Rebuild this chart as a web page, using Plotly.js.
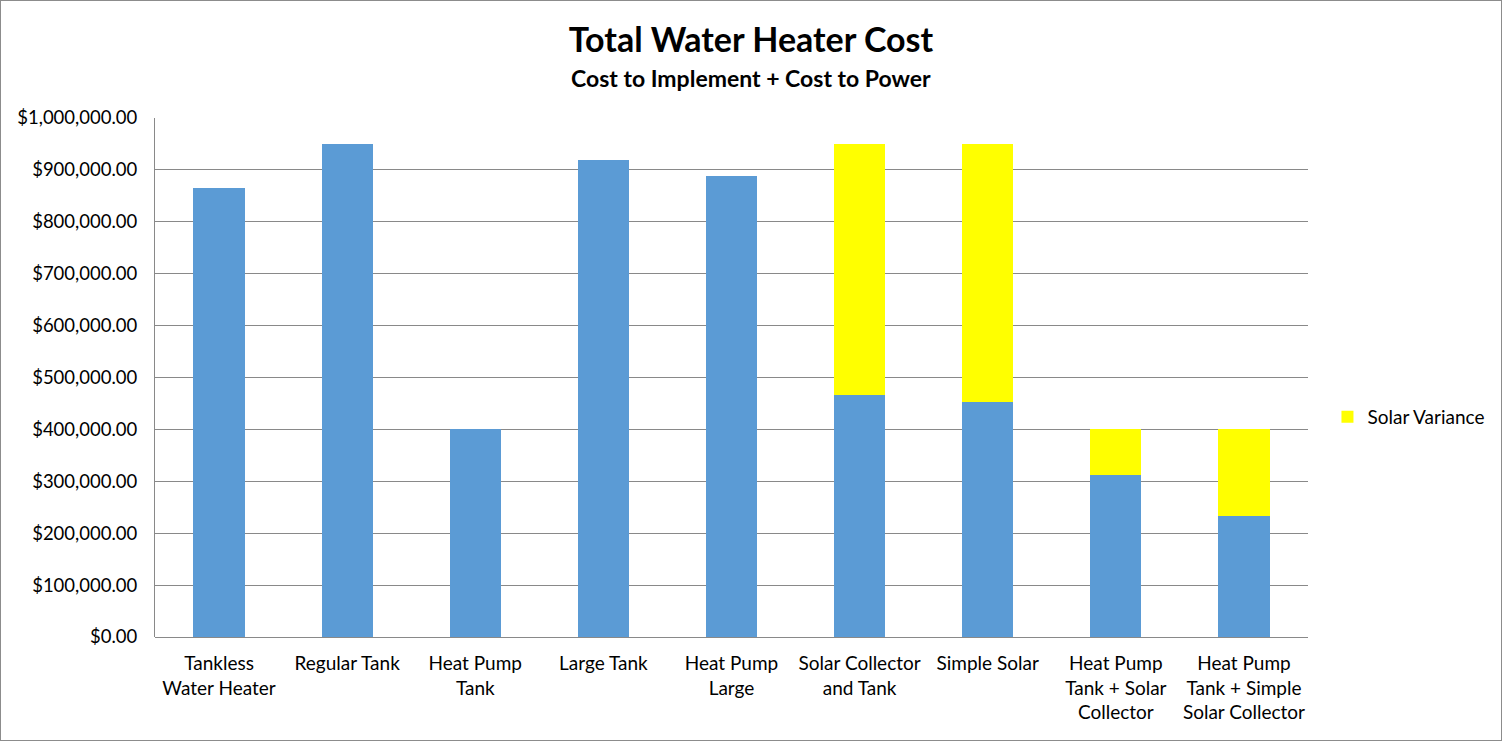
<!DOCTYPE html>
<html>
<head>
<meta charset="utf-8">
<script src="https://cdn.plot.ly/plotly-3.0.1.min.js"></script>
<style>
  body { margin: 0; background: #fff; }
  #chart { width: 1500px; height: 739px; border: 1px solid #8c8c8c; }
</style>
</head>
<body>
<div id="chart"></div>
<script>
// Heater types (x axis categories)
var heaterTypes = [
    "Tankless<br>Water Heater",
    "Regular Tank",
    "Heat Pump<br>Tank",
    "Large Tank",
    "Heat Pump<br>Large",
    "Solar Collector<br>and Tank",
    "Simple Solar",
    "Heat Pump<br>Tank + Solar<br>Collector",
    "Heat Pump<br>Tank + Simple<br>Solar Collector"
];

// Base cost (blue) and solar variance on top (yellow)
var baseCost = [866000, 949000, 400000, 920000, 889000, 466000, 453000, 312000, 233000];
var solarVariance = [null, null, null, null, null, 483000, 496000, 88000, 167000];

var font = "Lato, 'Open Sans', sans-serif";

var baseTrace = {
    x: heaterTypes,
    y: baseCost,
    type: "bar",
    name: "Cost",
    showlegend: false,
    marker: {color: "#5B9BD5"}
};

var solarTrace = {
    x: heaterTypes,
    y: solarVariance,
    type: "bar",
    name: "Solar Variance",
    marker: {color: "#FFFF00"}
};

var data = [baseTrace, solarTrace];

var layout = {
    width: 1500,
    height: 739,
    barmode: "stack",
    bargap: 0.6,
    paper_bgcolor: "#ffffff",
    plot_bgcolor: "#ffffff",
    font: {family: font, color: "#000000", size: 18},
    margin: {l: 154, r: 192, t: 117, b: 103},
    title: {
        text: "<b>Total Water Heater Cost</b>",
        font: {family: font, size: 34, color: "#000000"},
        x: 0.5, xanchor: "center",
        y: 0.947, yanchor: "middle"
    },
    annotations: [{
        // subtitle, centred on the whole figure rather than the plot area
        text: "<b>Cost to Implement + Cost to Power</b>",
        xref: "paper", yref: "paper",
        x: 0.517, y: 1.078,
        xanchor: "center", yanchor: "middle",
        showarrow: false,
        font: {family: font, size: 23, color: "#000000"}
    }],
    xaxis: {
        type: "category",
        showgrid: false,
        showline: false,
        ticks: "",
        ticklabelstandoff: 13,
        tickfont: {family: font, size: 19, color: "#000000"},
        fixedrange: true
    },
    yaxis: {
        range: [0, 1000000],
        dtick: 100000,
        tickformat: "$,.2f",
        showgrid: true,
        gridcolor: "#898989",
        gridwidth: 1,
        zeroline: true,
        zerolinecolor: "#898989",
        zerolinewidth: 1,
        showline: true,
        linecolor: "#898989",
        linewidth: 1,
        ticks: "",
        ticklabelstandoff: 13,
        tickfont: {family: font, size: 18.5, color: "#000000"},
        fixedrange: true
    },
    legend: {
        x: 1.016, xanchor: "left",
        y: 0.424, yanchor: "middle",
        font: {family: font, size: 19, color: "#000000"},
        itemwidth: 30
    }
};

Plotly.newPlot("chart", data, layout, {displayModeBar: false, staticPlot: true});
</script>
</body>
</html>
